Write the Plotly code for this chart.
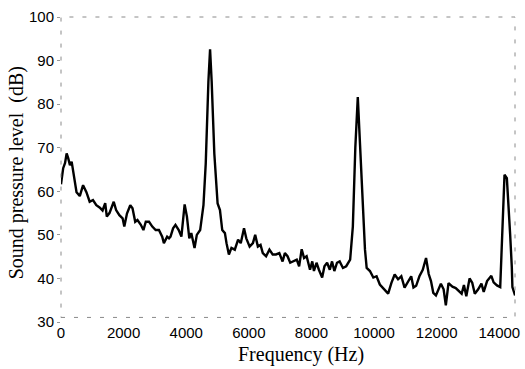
import plotly.graph_objects as go

freq_hz = [0, 70, 130, 180, 230, 285, 340, 440, 496, 600, 705, 812, 916, 1021, 1128, 1232,
           1327, 1412, 1463, 1548, 1684, 1760, 1864, 1968, 2022, 2107, 2212, 2284, 2370, 2442,
           2550, 2632, 2708, 2812, 2916, 3024, 3128, 3232, 3286, 3390, 3450, 3498, 3580, 3656,
           3760, 3845, 3949, 4022, 4098, 4161, 4265, 4338, 4445, 4550, 4622, 4708, 4761, 4812,
           4897, 5002, 5077, 5150, 5235, 5286, 5362, 5444, 5551, 5656, 5741, 5845, 5918, 6025,
           6130, 6202, 6288, 6373, 6445, 6550, 6657, 6761, 6866, 6973, 7077, 7150, 7235, 7321,
           7425, 7529, 7605, 7687, 7763, 7845, 7953, 8025, 8079, 8161, 8237, 8341, 8414, 8499,
           8585, 8657, 8730, 8815, 8900, 9005, 9109, 9235, 9321, 9400, 9479, 9558, 9637, 9709,
           9763, 9817, 9867, 9975, 10079, 10183, 10269, 10341, 10449, 10553, 10657, 10765, 10869,
           10973, 11080, 11185, 11257, 11343, 11447, 11554, 11659, 11744, 11817, 11890, 11975,
           12133, 12220, 12291, 12376, 12502, 12607, 12711, 12796, 12869, 12945, 13049, 13134,
           13216, 13324, 13428, 13501, 13608, 13744, 13817, 13924, 14028, 14060, 14101, 14165,
           14240, 14291, 14344, 14398, 14417, 14502]

spl_db = [61.6, 65.3, 66.5, 68.7, 67.6, 66.0, 66.8, 62.3, 59.8, 58.9, 61.4, 59.8, 57.6, 58.0, 56.8, 56.3,
          55.6, 57.3, 54.2, 55.0, 57.6, 55.7, 54.5, 53.8, 51.9, 54.9, 56.8, 56.1, 53.0, 53.4,
          52.3, 51.1, 53.0, 53.0, 51.9, 51.1, 51.1, 49.6, 48.1, 49.6, 49.2, 49.6, 51.5, 52.3,
          51.1, 49.6, 57.0, 54.2, 49.2, 50.4, 47.0, 50.0, 51.1, 56.8, 66.3, 85.2, 92.6, 85.2,
          68.6, 57.2, 55.7, 51.1, 50.4, 48.1, 45.5, 47.0, 46.6, 48.9, 48.1, 51.5, 49.2, 47.3,
          48.1, 50.0, 47.3, 47.7, 45.8, 45.1, 46.6, 45.5, 45.5, 45.8, 43.9, 45.8, 45.1, 43.6,
          43.9, 44.3, 42.8, 46.7, 44.7, 45.1, 42.0, 43.9, 41.7, 43.6, 42.0, 40.2, 42.8, 43.6,
          42.0, 43.9, 41.7, 43.6, 43.9, 42.4, 42.8, 44.3, 51.9, 70.0, 81.6, 70.0, 58.0, 46.6,
          42.4, 42.0, 41.7, 40.2, 40.5, 38.6, 37.9, 37.5, 36.5, 39.0, 40.9, 39.8, 40.5,
          37.9, 39.4, 40.5, 37.9, 38.3, 40.5, 42.0, 44.7, 41.0, 39.4, 36.7, 36.1,
          38.8, 37.5, 33.8, 38.9, 38.1, 37.8, 37.0, 36.5, 38.5, 35.9, 40.0, 39.0,
          36.5, 37.5, 38.8, 36.9, 39.4, 40.6, 39.1, 38.4, 38.0, 43.3, 53.9, 63.8,
          63.0, 57.7, 50.2, 42.6, 38.0, 36.1]

x_ticks = [0, 2000, 4000, 6000, 8000, 10000, 12000, 14000]
y_ticks = [30, 40, 50, 60, 70, 80, 90, 100]

fig = go.Figure()
fig.add_trace(go.Scatter(x=freq_hz, y=spl_db, mode="lines",
                         line=dict(color="#000000", width=2.4), showlegend=False))

tick_font = dict(family="Liberation Sans, Arial, sans-serif", size=15, color="#000000")
fig.update_layout(
    width=525, height=369,
    margin=dict(l=61, r=5, t=17, b=47),
    paper_bgcolor="white", plot_bgcolor="white",
    xaxis=dict(range=[0, 14500], tickvals=x_ticks, ticktext=[str(v) for v in x_ticks],
               showgrid=False, zeroline=False, showline=False, ticklabeloverflow="allow",
               ticks="", tickfont=tick_font),
    yaxis=dict(range=[30, 100], tickvals=y_ticks, ticktext=[str(v) for v in y_ticks],
               showgrid=False, zeroline=False, showline=False, ticklabeloverflow="allow",
               ticks="outside", ticklen=3, tickcolor="#999999", tickfont=tick_font),
    shapes=[dict(type="rect", xref="paper", yref="paper", x0=0, x1=1, y0=0.015, y1=1,
                 line=dict(color="#8a8a8a", width=1, dash="4px,9px"))],
    annotations=[
        dict(text="Frequency (Hz)", xref="paper", yref="paper", x=0.529, y=-0.108,
             xanchor="center", yanchor="middle", showarrow=False,
             font=dict(family="Liberation Serif, Times New Roman, serif", size=20, color="#000000")),
        dict(text="Sound pressure level  (dB)", xref="paper", yref="paper", x=-0.098, y=0.489,
             xanchor="center", yanchor="middle", showarrow=False, textangle=-90,
             font=dict(family="Liberation Serif, Times New Roman, serif", size=20, color="#000000")),
    ],
)

fig.write_html("out.html", config={"displayModeBar": False},
               post_script="document.body.style.margin='0';")
